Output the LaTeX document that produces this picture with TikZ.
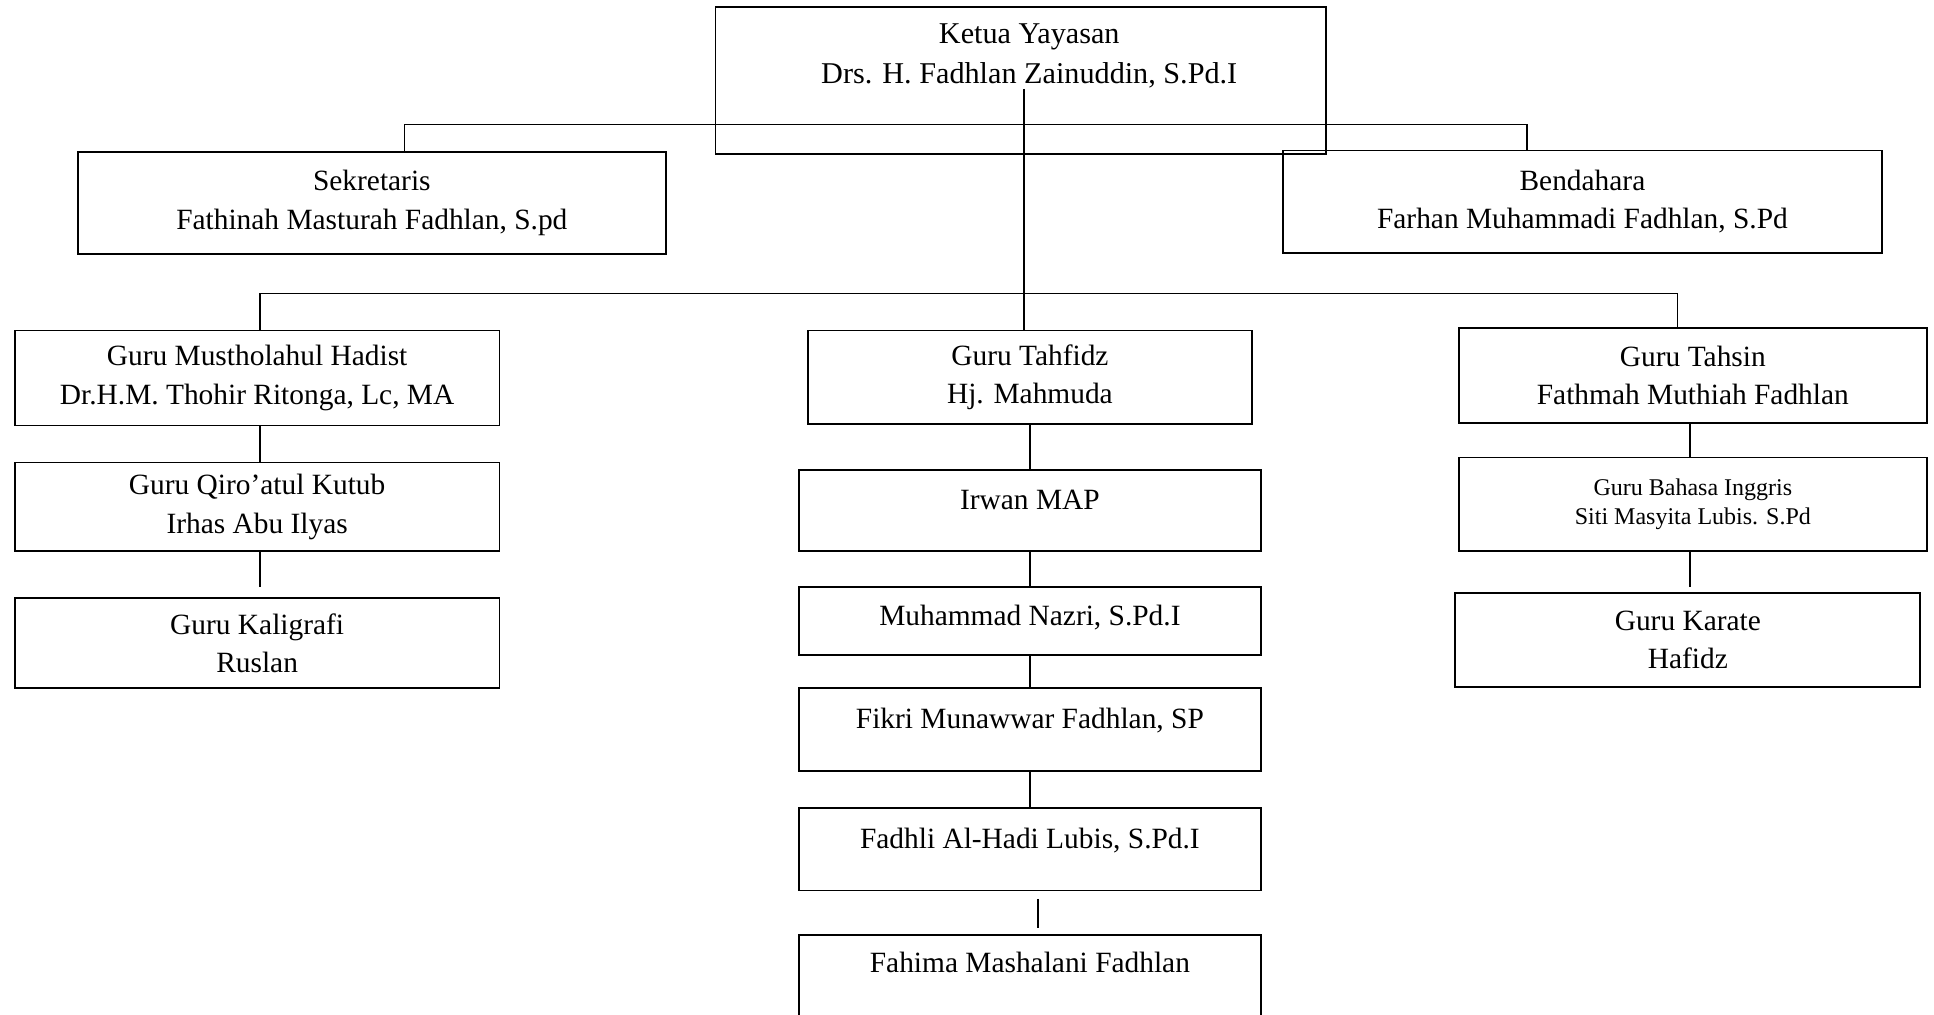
\documentclass[tikz,border=0pt]{standalone}
\usepackage{fontspec}
\setmainfont{Liberation Serif}
\usetikzlibrary{positioning}

\begin{document}
\begin{tikzpicture}[x=0.5pt, y=-0.5pt, line width=0.9pt,
        unit/.style={rectangle, draw, align=center, inner sep=0pt, font=\fontsize{14.7}{19.2}\selectfont},
        side/.style={unit, minimum width=242.35pt},
        member/.style={unit, minimum width=231.25pt, text height=10pt, text depth=#1}]
    \useasboundingbox (0,0) rectangle (1934,1015);
    \clip (0,0) rectangle (1934,1015);
    % pimpinan
    \node[unit, minimum width=305.25pt, minimum height=73.4pt, text depth=27pt, font=\fontsize{15.1}{19.7}\selectfont] (ketua) at (1020.65,80.8) {\hspace*{8.6pt}Ketua Yayasan\\\hspace*{8.6pt}Drs. H. Fadhlan Zainuddin, S.Pd.I};
    \node[unit, minimum width=294.15pt, minimum height=51.2pt] (sek) at (371.85,202.9) {Sekretaris\\Fathinah Masturah Fadhlan, S.pd};
    \node[unit, minimum width=299.75pt, minimum height=51.15pt] (bend) at (1582.45,201.65) {Bendahara\\Farhan Muhammadi Fadhlan, S.Pd};
    % kolom kiri
    \node[side, minimum height=47.5pt] (hadist) at (257.15,378) {Guru Mustholahul Hadist\\Dr.H.M. Thohir Ritonga, Lc, MA};
    \node[side, minimum height=44.4pt, below of=hadist, node distance=64.45pt] (qiroah) {Guru Qiro’atul Kutub\\Irhas Abu Ilyas};
    \node[side, minimum height=45pt, below of=qiroah, node distance=68.15pt] (kaligrafi) {Guru Kaligrafi\\Ruslan};
    % kolom tengah
    \node[unit, minimum width=222pt, minimum height=46.9pt] (tahfidz) at (1029.9,377.4) {Guru Tahfidz\\Hj. Mahmuda};
    \node[member=11.4pt, minimum height=40.7pt, below of=tahfidz, node distance=66.6pt] (irwan) {Irwan MAP};
    \node[member=5.9pt, minimum height=33.9pt, below of=irwan, node distance=55.2pt] (nazri) {Muhammad Nazri, S.Pd.I};
    \node[member=11pt, minimum height=41.35pt, below of=nazri, node distance=54.3pt] (fikri) {Fikri Munawwar Fadhlan, SP};
    \node[member=10.9pt, minimum height=41.3pt, below of=fikri, node distance=59.8pt] (fadhli) {Fadhli Al-Hadi Lubis, S.Pd.I};
    \node[member=14pt, minimum height=42pt, below of=fadhli, node distance=63.85pt] (fahima) {Fahima Mashalani Fadhlan};
    % kolom kanan
    \node[unit, minimum width=233.75pt, minimum height=47.45pt] (tahsin) at (1692.85,375.55) {Guru Tahsin\\Fathmah Muthiah Fadhlan};
    \node[unit, minimum width=233.75pt, minimum height=46.85pt, font=\fontsize{12}{14.2}\selectfont, below of=tahsin, node distance=64.45pt] (inggris) {Guru Bahasa Inggris\\Siti Masyita Lubis. S.Pd};
    \node[unit, minimum width=232.5pt, minimum height=46.85pt, below of=inggris, node distance=67.85pt, xshift=-2.5pt] (karate) {Guru Karate\\Hafidz};
    % garis
    \coordinate (trunk) at (1023.7,88.8);
    \coordinate (bar1) at (1023.7,124.6);
    \coordinate (bar2) at (1023.7,293.5);
    \draw ([xshift=16.3pt]sek.north) |- (bar1) -| ([xshift=-27.7pt]bend.north);
    \draw (trunk) -- (trunk |- tahfidz.north);
    \draw ([xshift=1.5pt]hadist.north) |- (bar2) -| ([xshift=-7.7pt]tahsin.north);
    \draw ([xshift=1.5pt]hadist.south) -- ([xshift=1.5pt]qiroah.north);
    \draw[shorten >=5pt] ([xshift=1.5pt]qiroah.south) -- ([xshift=1.5pt]kaligrafi.north);
    \draw (tahfidz.south) -- (irwan.north);
    \draw (irwan.south) -- (nazri.north);
    \draw (nazri.south) -- (fikri.north);
    \draw (fikri.south) -- (fadhli.north);
    \draw[shorten <=3.7pt, shorten >=3pt] ([xshift=3.9pt]fadhli.south) -- ([xshift=3.9pt]fahima.north);
    \draw ([xshift=-1.4pt]tahsin.south) -- ([xshift=-1.4pt]inggris.north);
    \draw[shorten >=2.5pt] ([xshift=-1.4pt]inggris.south) -- ([xshift=1.1pt]karate.north);
\end{tikzpicture}
\end{document}
